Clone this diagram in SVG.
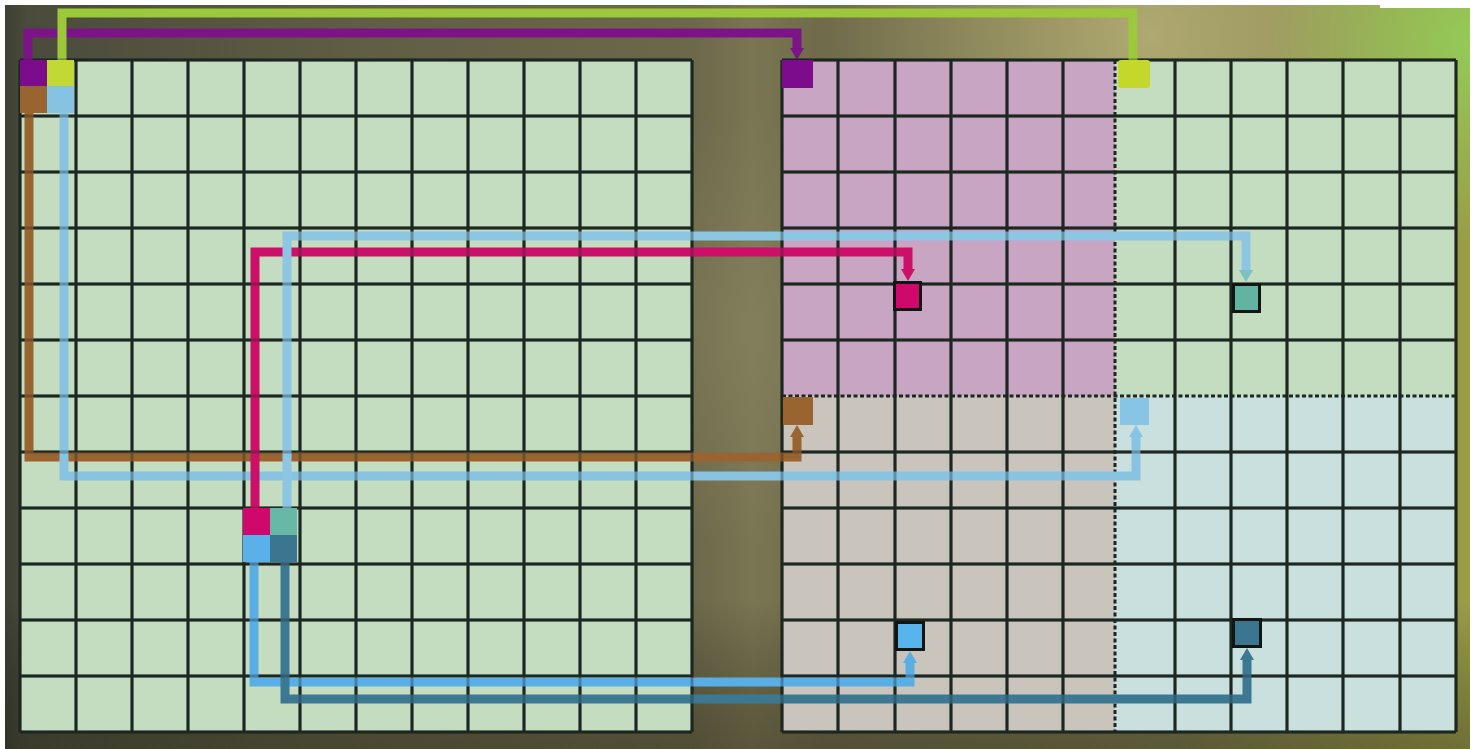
<svg xmlns="http://www.w3.org/2000/svg" width="1477" height="749" viewBox="0 0 1477 749">
<style>
.grid{fill:none;stroke:#1c2721;stroke-width:3}
.dash{fill:none;stroke:#1c2721;stroke-width:3;stroke-dasharray:4 2.5}
.con{fill:none;stroke-width:9;stroke-linejoin:miter;stroke-linecap:butt}
.tgt{stroke:#121612;stroke-width:3}
</style>
<defs>
<linearGradient id="bgh" x1="0" y1="0" x2="1" y2="0">
<stop offset="0" stop-color="#3e4034"/>
<stop offset="0.015" stop-color="#4a4b3b"/>
<stop offset="0.25" stop-color="#605e44"/>
<stop offset="0.47" stop-color="#6c684a"/>
<stop offset="0.51" stop-color="#7a7552"/>
<stop offset="0.56" stop-color="#6e6a4a"/>
<stop offset="0.8" stop-color="#7a784c"/>
<stop offset="1" stop-color="#9a9e48"/>
</linearGradient>
<linearGradient id="bgv" x1="0" y1="0" x2="0" y2="1">
<stop offset="0" stop-color="#000" stop-opacity="0"/>
<stop offset="0.8" stop-color="#000" stop-opacity="0"/>
<stop offset="1" stop-color="#1e1e10" stop-opacity="0.35"/>
</linearGradient>
<radialGradient id="hl1" cx="1150" cy="35" r="330" gradientUnits="userSpaceOnUse">
<stop offset="0" stop-color="#bdb57a" stop-opacity="0.8"/>
<stop offset="1" stop-color="#bdb57a" stop-opacity="0"/>
</radialGradient>
<radialGradient id="hl2" cx="1470" cy="40" r="200" gradientUnits="userSpaceOnUse">
<stop offset="0" stop-color="#94cc58" stop-opacity="0.95"/>
<stop offset="1" stop-color="#94cc58" stop-opacity="0"/>
</radialGradient>
<radialGradient id="hl3" cx="745" cy="330" r="220" gradientUnits="userSpaceOnUse">
<stop offset="0" stop-color="#8e8a66" stop-opacity="0.45"/>
<stop offset="1" stop-color="#8e8a66" stop-opacity="0"/>
</radialGradient>
<marker id="aPurple" viewBox="0 0 12 14" refX="1" refY="7" markerWidth="12" markerHeight="14" markerUnits="userSpaceOnUse" orient="auto"><path d="M0 0L12 7L0 14z" fill="#7c1488"/></marker>
<marker id="aBrown" viewBox="0 0 12 14" refX="1" refY="7" markerWidth="12" markerHeight="14" markerUnits="userSpaceOnUse" orient="auto"><path d="M0 0L12 7L0 14z" fill="#9a6430"/></marker>
<marker id="aSky" viewBox="0 0 12 14" refX="1" refY="7" markerWidth="12" markerHeight="14" markerUnits="userSpaceOnUse" orient="auto"><path d="M0 0L12 7L0 14z" fill="#88c4e2"/></marker>
<marker id="aSkyT" viewBox="0 0 12 14" refX="1" refY="7" markerWidth="12" markerHeight="14" markerUnits="userSpaceOnUse" orient="auto"><path d="M0 0L12 7L0 14z" fill="#7cc0c4"/></marker>
<marker id="aMag" viewBox="0 0 12 14" refX="1" refY="7" markerWidth="12" markerHeight="14" markerUnits="userSpaceOnUse" orient="auto"><path d="M0 0L12 7L0 14z" fill="#cc0f68"/></marker>
<marker id="aBlue" viewBox="0 0 12 14" refX="1" refY="7" markerWidth="12" markerHeight="14" markerUnits="userSpaceOnUse" orient="auto"><path d="M0 0L12 7L0 14z" fill="#5aaee6"/></marker>
<marker id="aDark" viewBox="0 0 12 14" refX="1" refY="7" markerWidth="12" markerHeight="14" markerUnits="userSpaceOnUse" orient="auto"><path d="M0 0L12 7L0 14z" fill="#3c7892"/></marker>
<path id="lgrid" class="grid" d="M20 60V732M76 60V732M132 60V732M188 60V732M244 60V732M300 60V732M356 60V732M412 60V732M468 60V732M524 60V732M580 60V732M636 60V732M692 60V732M20 60H692M20 116H692M20 172H692M20 228H692M20 284H692M20 340H692M20 396H692M20 452H692M20 508H692M20 564H692M20 620H692M20 676H692M20 732H692"/>
<path id="rgrid" class="grid" d="M782 60V732M838 60V732M895 60V732M951 60V732M1007 60V732M1063 60V732M1175 60V732M1231 60V732M1287 60V732M1343 60V732M1400 60V732M1456 60V732M782 60H1456M782 116H1456M782 172H1456M782 228H1456M782 284H1456M782 340H1456M782 452H1456M782 508H1456M782 564H1456M782 620H1456M782 676H1456M782 732H1456"/>
</defs>

<rect x="0" y="0" width="1477" height="749" fill="#ffffff"/>
<rect x="5" y="5" width="1465" height="744" fill="url(#bgh)"/>
<rect x="5" y="5" width="1465" height="744" fill="url(#hl3)"/>
<rect x="5" y="5" width="1465" height="744" fill="url(#hl1)"/>
<rect x="5" y="5" width="1465" height="744" fill="url(#hl2)"/>
<rect x="5" y="5" width="1465" height="744" fill="url(#bgv)"/>
<rect x="1380" y="0" width="97" height="8" fill="#ffffff"/>

<g id="left-grid">
<rect x="20" y="60" width="672" height="672" fill="#c4dcc0"/>
<use href="#lgrid"/>
</g>
<g id="right-grid">
<rect x="782" y="60" width="333" height="336" fill="#c9a5c4"/>
<rect x="1115" y="60" width="341" height="336" fill="#c4dcc0"/>
<rect x="782" y="396" width="333" height="336" fill="#c9c5bd"/>
<rect x="1115" y="396" width="341" height="336" fill="#c9e0df"/>
<use href="#rgrid"/>
<path class="dash" d="M1115 60V732M782 396H1456"/>
</g>

<g id="connectors">
<path class="con" stroke="#7c1488" d="M28 60V33H797V49" marker-end="url(#aPurple)"/>
<path class="con" stroke="#9cc83c" d="M62 60V13H1133V62"/>
<path class="con" stroke="#9a6430" d="M29 113V457H797V436" marker-end="url(#aBrown)"/>
<path class="con" stroke="#88c4e2" d="M64 113V476H1136V436" marker-end="url(#aSky)"/>
<path class="con" stroke="#cc0f68" d="M255 508V252H908V270" marker-end="url(#aMag)"/>
<path class="con" stroke="#8cc6e2" d="M287 508V236H1246V271" marker-end="url(#aSkyT)"/>
<path class="con" stroke="#5aaee6" d="M254 562V682H910V662" marker-end="url(#aBlue)"/>
<path class="con" stroke="#3c7892" d="M285 562V699H1247V659" marker-end="url(#aDark)"/>
</g>

<g id="grid-overlay" opacity="0.35">
<use href="#lgrid"/>
<use href="#rgrid"/>
</g>

<g id="src-a">
<rect x="20" y="60" width="27" height="26" fill="#7c0c8c"/>
<rect x="47" y="60" width="27" height="26" fill="#c2d836"/>
<rect x="20" y="86" width="27" height="27" fill="#9a6430"/>
<rect x="47" y="86" width="27" height="27" fill="#86c2e2"/>
</g>
<g id="src-b">
<rect x="243" y="508" width="27" height="27" fill="#d0086c"/>
<rect x="270" y="508" width="27" height="27" fill="#68b8a6"/>
<rect x="243" y="535" width="27" height="27" fill="#5ab0e8"/>
<rect x="270" y="535" width="27" height="27" fill="#3a7690"/>
</g>
<g id="tgt-purple"><rect x="782" y="60" width="31" height="28" fill="#7c0c8c"/></g>
<g id="tgt-yellow"><rect x="1118" y="60" width="32" height="28" rx="3" fill="#c4d82c"/></g>
<g id="tgt-brown"><rect x="783" y="397" width="30" height="28" fill="#9a6430"/></g>
<g id="tgt-sky"><rect x="1120" y="398" width="29" height="27" fill="#88c4e4"/></g>
<g id="tgt-magenta"><rect class="tgt" x="894.5" y="282.5" width="26" height="27" fill="#d0086c"/></g>
<g id="tgt-teal"><rect class="tgt" x="1233.5" y="284.5" width="26" height="27" fill="#62b4a2"/></g>
<g id="tgt-blue"><rect class="tgt" x="896.5" y="622.5" width="27" height="27" fill="#58b4ec"/></g>
<g id="tgt-dark"><rect class="tgt" x="1233.5" y="619.5" width="27" height="27" fill="#3a7690"/></g>
</svg>
